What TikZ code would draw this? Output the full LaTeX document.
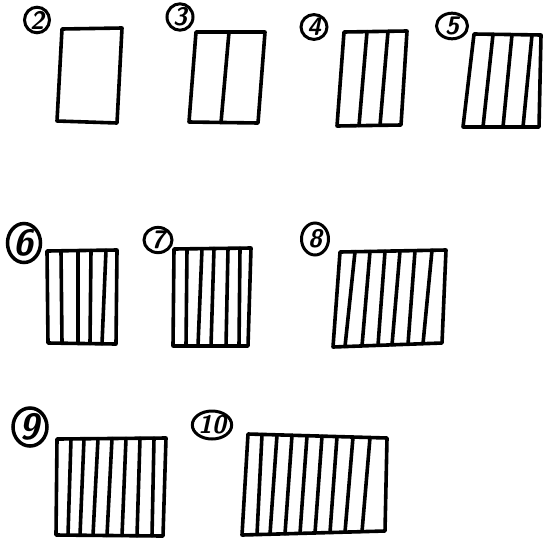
\documentclass[tikz,border=0pt]{standalone}
\usepackage{tikz}
\usetikzlibrary{shapes.geometric}

\tikzset{
  pen/.style={line width=0.72mm, line join=round, line cap=round},
  tag/.style={draw, ellipse, line width=0.6mm, inner sep=0pt,
    font=\sffamily\bfseries\itshape\Large},
  bigtag/.style={tag, line width=0.7mm, font=\sffamily\bfseries\itshape\huge}
}

\begin{document}
\begin{tikzpicture}[x=0.2mm, y=-0.2mm]
  \useasboundingbox (0,0) rectangle (544,539);

  % row one
  \node[tag, minimum width=5mm, minimum height=4.8mm] (tag2) at (37,20) {2};
  \draw[pen] (62,29) -- (122,28) -- (117,123) -- (57,121) -- cycle;

  \node[tag, minimum width=5.2mm, minimum height=3.8mm] (tag3) at (180,17) {3};
  \draw[pen] (196,32) -- (265,32) -- (258,123) -- (189,122) -- cycle;
  \draw[pen] (229,32) -- (221,122.5);

  \node[tag, minimum width=5.2mm, minimum height=4.4mm] (tag4) at (314,27) {4};
  \draw[pen] (344,32) -- (407,31) -- (401,125) -- (337,126) -- cycle;
  \foreach \t/\b in {367/359, 388/380}
    \draw[pen] (\t,{32-(\t-344)/63}) -- (\b,{126-(\b-337)/64});

  \node[tag, minimum width=6.2mm, minimum height=4.6mm] (tag5) at (452,26) {5};
  \draw[pen] (474,34) -- (541,35) -- (539,127) -- (463,127) -- cycle;
  \foreach \t/\b in {493/483, 512/503, 532/523}
    \draw[pen] (\t,{34+(\t-474)/67}) -- (\b,127);

  % row two
  \node[bigtag, minimum width=6.6mm, minimum height=7.8mm] (tag6) at (24,243) {6};
  \draw[pen] (47,251) -- (117,250) -- (116,344) -- (48,343) -- cycle;
  \foreach \t/\b in {61/62, 78/78, 91/90, 106/102}
    \draw[pen] (\t,{251-(\t-47)/70}) -- (\b,{343+(\b-48)/68});

  \node[tag, minimum width=5.6mm, minimum height=5mm] (tag7) at (158,240) {7};
  \draw[pen] (174,249) -- (251,248) -- (248,346) -- (173,346) -- cycle;
  \foreach \t/\b in {187/186, 202/198, 214/211, 228/226, 240/239}
    \draw[pen] (\t,{249-(\t-174)/77}) -- (\b,346);

  \node[tag, minimum width=5.4mm, minimum height=6.4mm] (tag8) at (315,239) {8};
  \draw[pen] (340,252) -- (446,250) -- (442,343) -- (333,347) -- cycle;
  \foreach \t/\b in {355/345, 370/362, 385/378, 400/392, 415/408, 432/423}
    \draw[pen] (\t,{252-(\t-340)*2/106}) -- (\b,{347-(\b-333)*4/109});

  % row three
  \node[bigtag, minimum width=6.8mm, minimum height=7mm] (tag9) at (30,427) {9};
  \draw[pen] (57,439) -- (166,438) -- (163,536) -- (56,535) -- cycle;
  \foreach \t/\b in {71/68, 84/80, 98/93, 112/107, 126/122, 140/137, 154/152}
    \draw[pen] (\t,{439-(\t-57)/109}) -- (\b,{535+(\b-56)/107});

  \node[tag, minimum width=7.6mm, minimum height=5.6mm] (tag10) at (212,425) {10};
  \draw[pen] (248,434) -- (387,438) -- (385,531) -- (242,535) -- cycle;
  \foreach \t/\b in {262/257, 277/270, 292/285, 307/300, 322/315, 337/330, 353/345, 370/362}
    \draw[pen] (\t,{434+(\t-248)*4/139}) -- (\b,{535-(\b-242)*4/143});
\end{tikzpicture}
\end{document}
